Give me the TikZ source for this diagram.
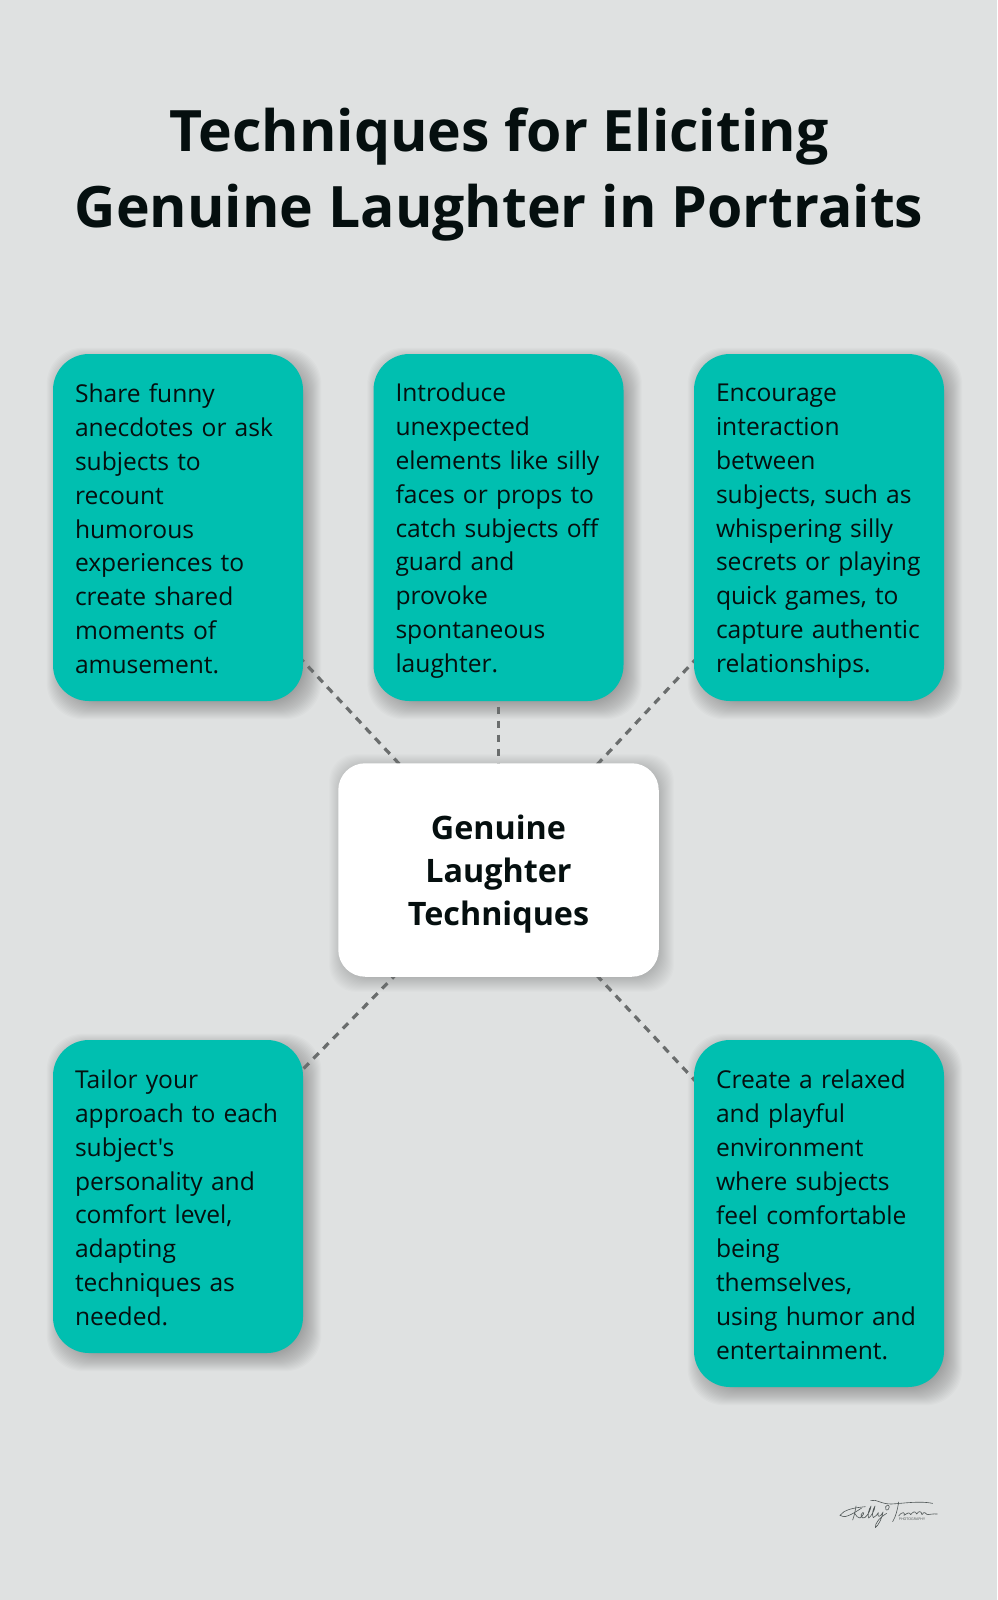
\documentclass[tikz,border=0pt]{standalone}
\usepackage{fontspec}
\setmainfont{Open Sans}[Ligatures=TeXOff]
\usetikzlibrary{backgrounds}
\definecolor{pagebg}{HTML}{DFE1E1}
\definecolor{teal}{HTML}{00BFB0}
\definecolor{ink}{HTML}{050F0F}
\definecolor{dashgrey}{HTML}{6A6D6D}
% #1 node, #2 corner radius, #3 offset, #4 opacity
\newcommand{\softshadow}[4]{%
  \foreach \d in {-8,-7,...,12}{
    \fill[black,opacity=#4,rounded corners=#2pt]
      ([shift={(#3-\d,#3-\d)}]#1.north west) rectangle ([shift={(#3+\d,#3+\d)}]#1.south east);
  }}
\tikzset{
  tip/.style={draw=none,fill=teal,rounded corners=36pt,text=ink,text width=206pt,inner xsep=22pt,inner ysep=0pt,
    minimum width=250pt,align=left,font=\fontsize{24.6}{33.9}\selectfont,
    execute at begin node={\rule[-4pt]{0pt}{29pt}},execute at end node={\rule[-4pt]{0pt}{29pt}}},
  hub/.style={draw=none,fill=white,rounded corners=27pt,text=ink,text width=320.5pt,minimum width=320.5pt,minimum height=213.5pt,
    inner sep=0pt,align=center,font=\fontsize{32.3}{42.8}\selectfont\bfseries,
    execute at begin node={\rule[-3.5pt]{0pt}{36pt}},execute at end node={\rule[-3.5pt]{0pt}{36pt}}},
  headline/.style={text=ink,align=center,inner sep=0pt,font=\fontsize{57.1}{76}\selectfont\bfseries},
  linkline/.style={draw=dashgrey,line width=3.2pt,dash pattern=on 7.5pt off 6.5pt},
  inkstroke/.style={draw=ink!70,line width=0.6pt,line cap=round,line join=round}
}
\begin{document}
\begin{tikzpicture}[x=1pt,y=-1pt]
\useasboundingbox (0,0) rectangle (997,1600);
\node[headline] (title) at (499,175) {Techniques for Eliciting\\Genuine Laughter in Portraits};
\node[tip,minimum height=347pt] (a) at (178,527.5) {Share funny\\anecdotes or ask\\subjects to\\recount\\humorous\\experiences to\\create shared\\moments of\\amusement.};
\node[tip,minimum height=347pt] (b) at (498.5,527.5) {Introduce\\unexpected\\elements like silly\\faces or props to\\catch subjects off\\guard and\\provoke\\spontaneous\\laughter.};
\node[tip,minimum height=347pt] (c) at (819,527.5) {Encourage\\interaction\\between\\subjects, such as\\whispering silly\\secrets or playing\\quick games, to\\capture authentic\\relationships.};
\node[hub] (h) at (498.5,870) {Genuine\\Laughter\\Techniques};
\node[tip,minimum height=313pt] (d) at (178,1196.5) {Tailor your\\approach to each\\subject's\\personality and\\comfort level,\\adapting\\techniques as\\needed.};
\node[tip,minimum height=347pt] (e) at (819,1213.5) {Create a relaxed\\and playful\\environment\\where subjects\\feel comfortable\\being\\themselves,\\using humor and\\entertainment.};
\begin{scope}[on background layer]
  \fill[pagebg] (0,0) rectangle (997,1600);
  \softshadow{a}{36}{6}{0.016}\softshadow{b}{36}{6}{0.016}\softshadow{c}{36}{6}{0.016}\softshadow{d}{36}{6}{0.016}\softshadow{e}{36}{6}{0.016}\softshadow{h}{27}{3}{0.010}
  \draw[linkline,dash phase=5.55pt] (a.center) -- (h.center);
  \draw[linkline,dash phase=2.8pt] (b.center) -- (h.center);
  \draw[linkline,dash phase=4.65pt] (c.center) -- (h.center);
  \draw[linkline,dash phase=2.65pt] (d.center) -- (h.center);
  \draw[linkline,dash phase=3.45pt] (e.center) -- (h.center);
\end{scope}
% signature
\begin{scope}[shift={(820,1480)},x=0.3333pt,y=-0.3333pt]
  % K
  \draw[inkstroke] (60,106) .. controls (72,90) and (95,84) .. (136,80);
  \draw[inkstroke] (108,78) .. controls (106,92) and (103,106) .. (98,120);
  \draw[inkstroke] (60,106) .. controls (72,116) and (92,106) .. (125,84);
  \draw[inkstroke] (104,100) .. controls (110,108) and (112,114) .. (120,114);
  % e l l
  \draw[inkstroke] (120,114) .. controls (130,106) and (135,96) .. (128,98) .. controls (120,102) and (122,118) .. (134,113) .. controls (144,105) and (152,90) .. (153,78) .. controls (146,88) and (142,106) .. (146,114) .. controls (154,108) and (164,92) .. (165,78) .. controls (158,88) and (155,106) .. (160,113);
  % y
  \draw[inkstroke] (160,113) .. controls (168,110) and (172,102) .. (175,98) .. controls (172,108) and (176,112) .. (182,106) .. controls (186,102) and (188,98) .. (189,96) .. controls (186,115) and (176,135) .. (166,143) .. controls (164,130) and (180,112) .. (200,100);
  % ampersand
  \draw[inkstroke] (197,80) .. controls (204,70) and (212,78) .. (205,88) .. controls (198,94) and (195,86) .. (197,80);
  % flourish and T
  \draw[inkstroke] (152,62) .. controls (170,56) and (180,72) .. (214,72) .. controls (250,70) and (300,62) .. (338,70);
  \draw[inkstroke] (236,66) .. controls (232,90) and (228,108) .. (218,125);
  % avorski
  \draw[inkstroke] (236,108) .. controls (248,92) and (256,98) .. (252,106) .. controls (262,100) and (268,94) .. (272,104) .. controls (280,94) and (286,92) .. (290,102) .. controls (296,92) and (304,92) .. (306,104) .. controls (312,92) and (318,100) .. (322,104) .. controls (330,103) and (340,101) .. (352,102);
\end{scope}
\node[text=ink!70,inner sep=0pt,font=\fontsize{3.6}{4}\selectfont] (brand) at (912,1519) {PHOTOGRAPHY};
\end{tikzpicture}
\end{document}
